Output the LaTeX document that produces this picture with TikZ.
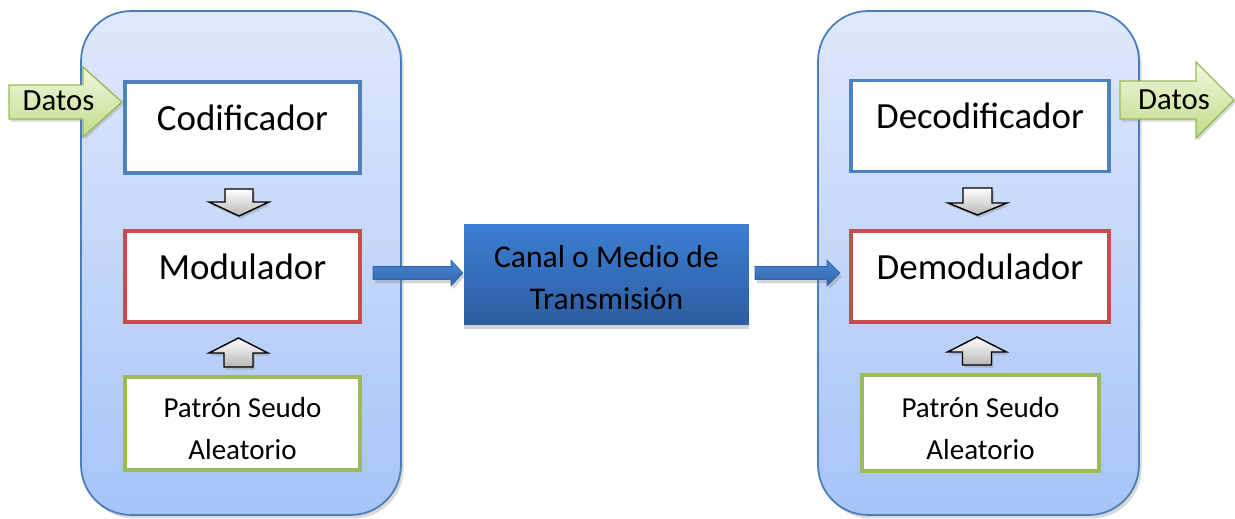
\documentclass[tikz,border=0pt]{standalone}
\usepackage{fontspec}
\setmainfont{Carlito}
\usetikzlibrary{positioning, shadows}

\definecolor{azulborde}{HTML}{4F81BD}
\definecolor{rojoborde}{HTML}{C0504D}
\definecolor{verdeborde}{HTML}{9BBB59}
\definecolor{contarriba}{HTML}{DFE9FC}
\definecolor{contabajo}{HTML}{A6C4F8}
\definecolor{contborde}{HTML}{4A7EBB}
\definecolor{canalarriba}{HTML}{3C7ED4}
\definecolor{canalabajo}{HTML}{2C5D9E}
\definecolor{flechaarriba}{HTML}{4A87D3}
\definecolor{flechaabajo}{HTML}{2E64AA}
\definecolor{datosarriba}{HTML}{EFF7DF}
\definecolor{datosabajo}{HTML}{C2DD88}

\begin{document}
\begin{tikzpicture}[x=0.02cm,y=-0.02cm,
    contenedor/.style={draw=contborde, line width=1pt, rounded corners=1cm,
        top color=contarriba, bottom color=contabajo,
        drop shadow={opacity=.3, shadow xshift=1.5pt, shadow yshift=-2pt},
        minimum width=6.4cm, minimum height=10.08cm},
    bloque/.style={draw, line width=2.2pt, fill=white, minimum width=4.7cm,
        minimum height=1.82cm, text height=0.55cm, text depth=0.45cm,
        font=\fontsize{21}{25}\selectfont},
    bloquep/.style={draw=verdeborde, line width=2.2pt, fill=white, minimum width=4.7cm,
        minimum height=1.86cm, align=center,
        font=\fontsize{16.5}{23.8}\selectfont},
    canal/.style={top color=canalarriba, bottom color=canalabajo,
        drop shadow={opacity=.35, shadow xshift=0pt, shadow yshift=-2pt},
        minimum width=5.7cm, minimum height=2.02cm, align=center,
        font=\fontsize{18}{24.4}\selectfont},
    gris/.style={draw=black, line width=0.8pt, top color=white, bottom color=black!28,
        drop shadow={opacity=.35, shadow xshift=1pt, shadow yshift=-1.5pt}},
    azul/.style={draw=flechaabajo, line width=0.3pt, top color=flechaarriba, bottom color=flechaabajo,
        drop shadow={opacity=.35, shadow xshift=1pt, shadow yshift=-2pt}},
    datos/.style={draw=verdeborde, line width=0.8pt, top color=datosarriba, bottom color=datosabajo,
        drop shadow={opacity=.3, shadow xshift=1pt, shadow yshift=-1.5pt}},
    datostxt/.style={inner sep=0pt, font=\fontsize{17.5}{20}\selectfont}]
\useasboundingbox (0,0) rectangle (1235,518);

% transmisor y receptor
\node[contenedor] (tx) at (241,263) {};
\node[contenedor, minimum width=6.42cm] (rx) at (978.5,263) {};

% bloques del transmisor
\node[bloque, draw=azulborde] (cod) at (242.5,127.5) {Codificador};
\node[bloque, draw=rojoborde] (mod) at (242.5,276.5) {Modulador};
\node[bloquep] (pat) at (242.5,423.5) {\rule{0pt}{17.5pt}Patrón Seudo\\Aleatorio};

% bloques del receptor
\node[bloque, draw=azulborde, minimum width=5.16cm] (dec) at (980,126) {Decodificador};
\node[bloque, draw=rojoborde, minimum width=5.16cm] (dem) at (980,276.5) {Demodulador};
\node[bloquep, minimum width=4.74cm, minimum height=1.92cm] (pat2) at (980.5,423) {\rule{0pt}{17.5pt}Patrón Seudo\\Aleatorio};

% canal
\node[canal] (canal) at (606.5,274.5) {\rule{0pt}{16pt}Canal o Medio de\\Transmisión};

% flechas grises
\draw[gris] (225,189) -- (253,189) -- (253,202) -- (269,202) -- (239,216)
    -- (209,202) -- (225,202) -- cycle;
\draw[gris] (224,367) -- (253,367) -- (253,353) -- (268,353) -- (238.5,338)
    -- (209,353) -- (224,353) -- cycle;
\draw[gris] (963,188) -- (992,188) -- (992,203) -- (1007,203) -- (977.5,215)
    -- (948,203) -- (963,203) -- cycle;
\draw[gris] (962.5,365) -- (991.5,365) -- (991.5,352) -- (1006.5,352) -- (977,337)
    -- (947.5,352) -- (962.5,352) -- cycle;

% flechas azules
\draw[azul] (373,266.5) -- (451,266.5) -- (451,260) -- (463,273) -- (451,286)
    -- (451,279.5) -- (373,279.5) -- cycle;
\draw[azul] (755,266.5) -- (827,266.5) -- (827,260) -- (840,273) -- (827,286)
    -- (827,279.5) -- (755,279.5) -- cycle;

% datos de entrada y salida
\draw[datos] (9,85) -- (83,85) -- (83,67) -- (122,102) -- (83,137) -- (83,119)
    -- (9,119) -- cycle;
\draw[datos] (1120,81) -- (1196,81) -- (1196,62) -- (1234,100) -- (1196,138)
    -- (1196,119) -- (1120,119) -- cycle;
\node[datostxt] (din) at (58.5,100.5) {Datos};
\node[datostxt] (dout) at (1174,99.5) {Datos};
\end{tikzpicture}
\end{document}
